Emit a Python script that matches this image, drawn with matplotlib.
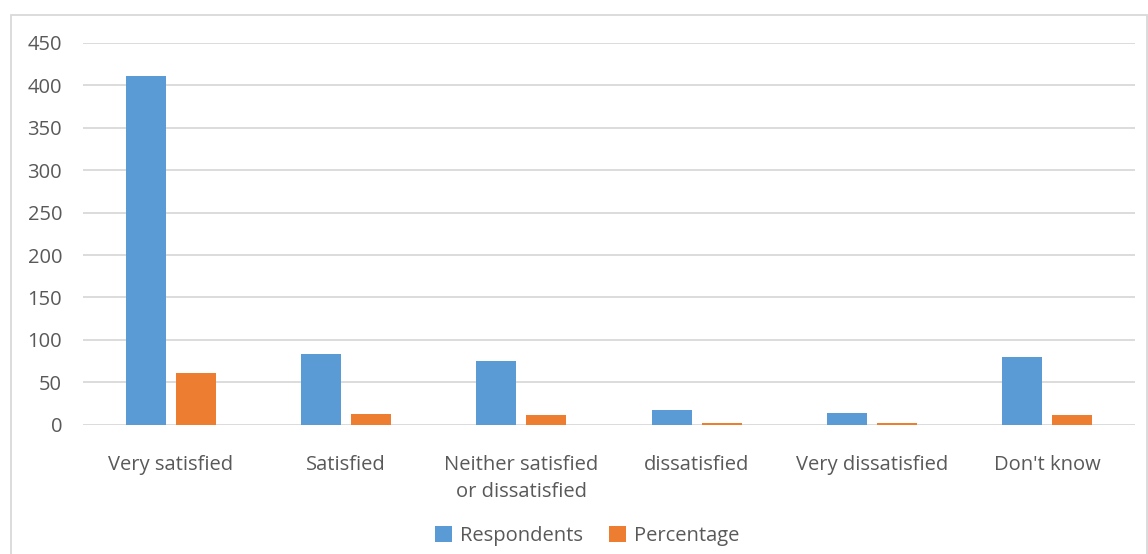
import matplotlib
matplotlib.use("Agg")
import matplotlib.pyplot as plt
import numpy as np
from matplotlib.patches import Rectangle

categories = ["Very satisfied", "Satisfied", "Neither satisfied\nor dissatisfied",
              "dissatisfied", "Very dissatisfied", "Don't know"]
respondents = [411, 83, 75, 17, 14, 80]
percentage = [60.4, 12.2, 11.0, 2.5, 2.1, 11.8]
yticks = [0, 50, 100, 150, 200, 250, 300, 350, 400, 450]

plt.rcParams['font.family'] = ['Open Sans', 'DejaVu Sans']
W, H = 1148, 554
fig = plt.figure(figsize=(W/100, H/100), dpi=100)
ax = fig.add_axes([83/W, 1 - 424.7/H, (1135-83)/W, (424.7-43)/H])

x = np.arange(len(categories))
bw = 0.228
gap = 0.057
blue = "#5B9BD5"
orange = "#ED7D31"
ax.bar(x - (bw+gap)/2, respondents, bw, color=blue, label="Respondents", zorder=3)
ax.bar(x + (bw+gap)/2, percentage, bw, color=orange, label="Percentage", zorder=3)

ax.set_xlim(-0.5, len(categories)-0.5)
ax.set_ylim(0, 450)
ax.set_yticks(yticks)
ax.grid(axis='y', color='#D9D9D9', linewidth=1.3, zorder=0)
for s in ax.spines.values():
    s.set_visible(False)
ax.tick_params(axis='both', length=0, labelsize=14.5, colors='#595959')
ax.tick_params(axis='y', pad=15)
ax.tick_params(axis='x', pad=22)
ax.set_xticks(x)
ax.set_xticklabels(categories, va='top', linespacing=1.48)

# outer chart border
fig.patches.append(Rectangle((11/W, -0.01), (1147-11)/W, 1 - 15/H + 0.01,
                             transform=fig.transFigure, fill=False,
                             edgecolor='#D9D9D9', linewidth=1.3))

fig.legend(loc='center', bbox_to_anchor=(587/W, 1 - 536/H), ncol=2, frameon=False,
           fontsize=14.5, labelcolor='#595959', handlelength=0.85, handleheight=0.85,
           handletextpad=0.4, columnspacing=1.3)

fig.savefig("out.png", dpi=100)
